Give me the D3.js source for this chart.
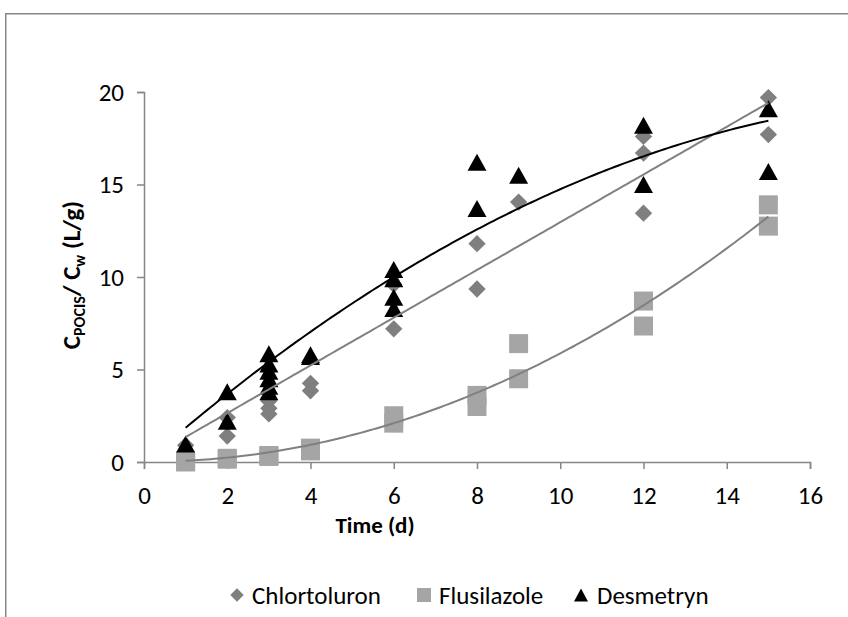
<!DOCTYPE html>
<html>
<head>
<meta charset="utf-8">
<script src="https://cdn.jsdelivr.net/npm/d3@7"></script>
<style>
  html, body { margin: 0; padding: 0; background: #fff; }
  svg { display: block; }
  text { font-family: Carlito, Calibri, Lato, "Open Sans", sans-serif; fill: #000; }
</style>
</head>
<body>
<svg id="chart" width="848" height="617"></svg>
<script>
// ---- data ----
const chlorX = [1, 2, 2, 3, 3, 3, 4, 4, 6, 6, 8, 8, 9, 12, 12, 12, 15, 15];
const chlorY = [0.9, 2.4, 1.4, 3.3, 2.9, 2.6, 4.25, 3.85, 9.6, 7.2, 11.8, 9.35, 14.05, 17.6, 16.7, 13.45, 19.7, 17.7];

const flusX = [1, 1, 2, 2, 3, 3, 4, 4, 6, 6, 8, 8, 9, 9, 12, 12, 15, 15];
const flusY = [0.0, 0.05, 0.15, 0.2, 0.35, 0.3, 0.75, 0.6, 2.5, 2.1, 3.6, 3.0, 6.4, 4.5, 8.7, 7.35, 13.9, 12.75];

const desmX = [1, 2, 2, 3, 3, 3, 3, 3, 3, 4, 4, 6, 6, 6, 6, 8, 8, 9, 12, 12, 15, 15];
const desmY = [0.97, 3.8, 2.2, 5.85, 5.3, 4.9, 4.5, 4.1, 3.8, 5.8, 5.7, 10.4, 9.9, 8.9, 8.3, 16.2, 13.7, 15.5, 18.2, 15.0, 19.1, 15.7];

// trend line polynomial coefficients [a, b, c] for y = a + b*x + c*x^2
const chlorTrend = [0.06, 1.29, 0.0];
const flusTrend = [0.02, -0.011, 0.0596];
const desmTrend = [-0.076, 1.9756, -0.04937];
const trendRange = [1, 15];

const xTicks = [0, 2, 4, 6, 8, 10, 12, 14, 16];
const yTicks = [0, 5, 10, 15, 20];
const seriesNames = ["Chlortoluron", "Flusilazole", "Desmetryn"];

// ---- chart ----
const svg = d3.select("#chart");
const x = d3.scaleLinear().domain([0, 16]).range([144, 810]);
const y = d3.scaleLinear().domain([0, 20]).range([462, 92]);
const axisColor = "#868686";
const fontSize = 25;

// outer frame
svg.append("rect").attr("x", 5.75).attr("y", 13.75).attr("width", 900).attr("height", 700)
  .attr("fill", "none").attr("stroke", "#878787").attr("stroke-width", 1.5);

// y axis
const gy = svg.append("g").attr("transform", `translate(${x(0)},0)`)
  .call(d3.axisLeft(y).tickValues(yTicks).tickSize(7).tickPadding(13).tickFormat(d3.format("d")));
// x axis
const gx = svg.append("g").attr("transform", `translate(0,${y(0)})`)
  .call(d3.axisBottom(x).tickValues(xTicks).tickSize(7).tickPadding(17).tickFormat(d3.format("d")));
[gx, gy].forEach(g => {
  g.select(".domain").attr("stroke", axisColor).attr("stroke-width", 1.5);
  g.selectAll(".tick line").attr("stroke", axisColor).attr("stroke-width", 1.5);
  g.selectAll(".tick text").attr("font-size", fontSize).attr("fill", "#000")
    .attr("font-family", "Carlito, Calibri, Lato, sans-serif");
});

// markers
const diamond = d3.symbol().type(d3.symbolSquare).size(150);
const plot = svg.append("g");
plot.selectAll(".chl").data(chlorX.map((d, i) => [d, chlorY[i]])).join("path")
  .attr("d", diamond)
  .attr("transform", d => `translate(${x(d[0])},${y(d[1])}) rotate(45)`)
  .attr("fill", "#7f7f7f");
plot.selectAll(".flu").data(flusX.map((d, i) => [d, flusY[i]])).join("rect")
  .attr("x", d => x(d[0]) - 9.5).attr("y", d => y(d[1]) - 9.5)
  .attr("width", 19).attr("height", 19)
  .attr("fill", "#a5a5a5");
const tri = (cx, cy, w, h) => `M${cx},${cy - h / 2}L${cx + w / 2},${cy + h / 2}L${cx - w / 2},${cy + h / 2}Z`;
plot.selectAll(".des").data(desmX.map((d, i) => [d, desmY[i]])).join("path")
  .attr("d", d => tri(x(d[0]), y(d[1]), 19, 17))
  .attr("fill", "#000");

// trend lines
const trendPts = coef => d3.range(trendRange[0], trendRange[1] + 0.001, 0.1)
  .map(t => [t, coef[0] + coef[1] * t + coef[2] * t * t]);
const line = d3.line().x(d => x(d[0])).y(d => y(d[1])).curve(d3.curveLinear);
[[chlorTrend, "#808080"], [flusTrend, "#808080"], [desmTrend, "#000"]].forEach(([c, col]) => {
  svg.append("path").attr("d", line(trendPts(c))).attr("fill", "none")
    .attr("stroke", col).attr("stroke-width", 2);
});

// axis titles
svg.append("text").attr("x", 375).attr("y", 533).attr("text-anchor", "middle")
  .attr("font-size", 23).attr("font-weight", "bold").text("Time (d)");
const yt = svg.append("text").attr("transform", "translate(80,275) rotate(-90)")
  .attr("text-anchor", "middle").attr("font-size", 25).attr("font-weight", "bold");
yt.append("tspan").text("C");
yt.append("tspan").attr("font-size", 16).attr("dy", 5).text("POCIS");
yt.append("tspan").attr("dy", -5).text("/ C");
yt.append("tspan").attr("font-size", 16).attr("dy", 5).text("w");
yt.append("tspan").attr("dy", -5).text(" (L/g)");

// legend
const legY = 595;
const leg = svg.append("g");
const legItems = [
  { name: seriesNames[0], mx: 237, tx: 252 },
  { name: seriesNames[1], mx: 424, tx: 439 },
  { name: seriesNames[2], mx: 581, tx: 597 }
];
leg.append("path").attr("d", d3.symbol().type(d3.symbolSquare).size(90))
  .attr("transform", `translate(${legItems[0].mx},${legY}) rotate(45)`).attr("fill", "#7f7f7f");
leg.append("rect").attr("x", legItems[1].mx - 7).attr("y", legY - 7).attr("width", 14).attr("height", 14).attr("fill", "#a5a5a5");
leg.append("path").attr("d", tri(legItems[2].mx, legY, 14, 13)).attr("fill", "#000");
legItems.forEach(it => {
  leg.append("text").attr("x", it.tx).attr("y", legY).attr("dy", "0.35em")
    .attr("font-size", 25).text(it.name);
});
</script>
</body>
</html>
